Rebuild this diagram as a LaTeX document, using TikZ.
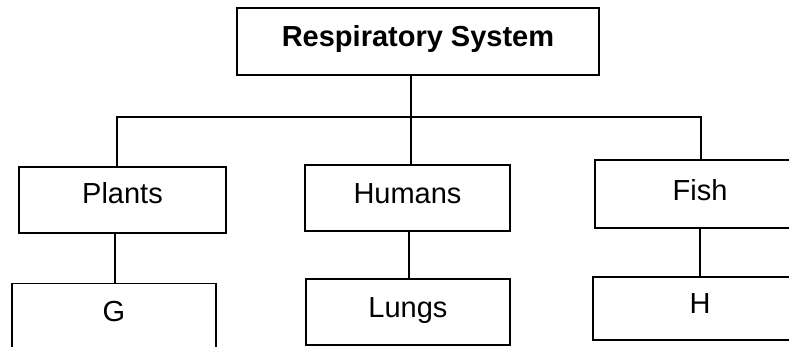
\documentclass[tikz,border=0pt]{standalone}
\usepackage{fontspec}
\setmainfont{Liberation Sans}
\begin{document}
\begin{tikzpicture}[x=1pt,y=-1pt,
  box/.style={draw=black, line width=1.6pt, rectangle, inner sep=0pt,
    font=\fontsize{29}{34}\selectfont, text height=21pt},
  conn/.style={draw=black, line width=1.4pt}]
\useasboundingbox (0,0) rectangle (789,347);
\fill[white] (0,0) rectangle (789,347);
\clip (0,0) rectangle (789,347);
% level 0
\node[box, minimum width=362pt, minimum height=67pt, text depth=11pt,
  font=\fontsize{29}{34}\selectfont\bfseries] (top) at (418,41.5) {Respiratory System};
% level 1
\node[box, minimum width=207pt, minimum height=66pt, text depth=14pt] (plants) at (122.5,200) {Plants};
\node[box, minimum width=205pt, minimum height=66pt, text depth=10pt] (humans) at (407.5,198) {Humans};
\node[box, minimum width=210pt, minimum height=68pt, text depth=8pt] (fish) at (700,194) {Fish};
% level 2
\node[box, minimum width=204pt, minimum height=67pt, text depth=12pt] (g) at (114,317) {G};
\node[box, minimum width=204pt, minimum height=66pt, text depth=10pt] (lungs) at (408,312) {Lungs};
\node[box, minimum width=214pt, minimum height=63pt, text depth=12pt] (h) at (700,308.5) {H};
% connectors
\coordinate (bus) at (411,117);
\draw[conn] ([xshift=3.5pt]humans.north) -- ([xshift=3.5pt]humans.north |- top.south);
\draw[conn] ([xshift=-5.5pt]plants.north) |- (bus) -| ([xshift=1pt]fish.north);
\draw[conn] ([xshift=-7.5pt]plants.south) -- ([xshift=-7.5pt]plants.south |- g.north);
\draw[conn] ([xshift=1.5pt]humans.south) -- ([xshift=1.5pt]humans.south |- lungs.north);
\draw[conn] (fish.south) -- (fish.south |- h.north);
\end{tikzpicture}
\end{document}
